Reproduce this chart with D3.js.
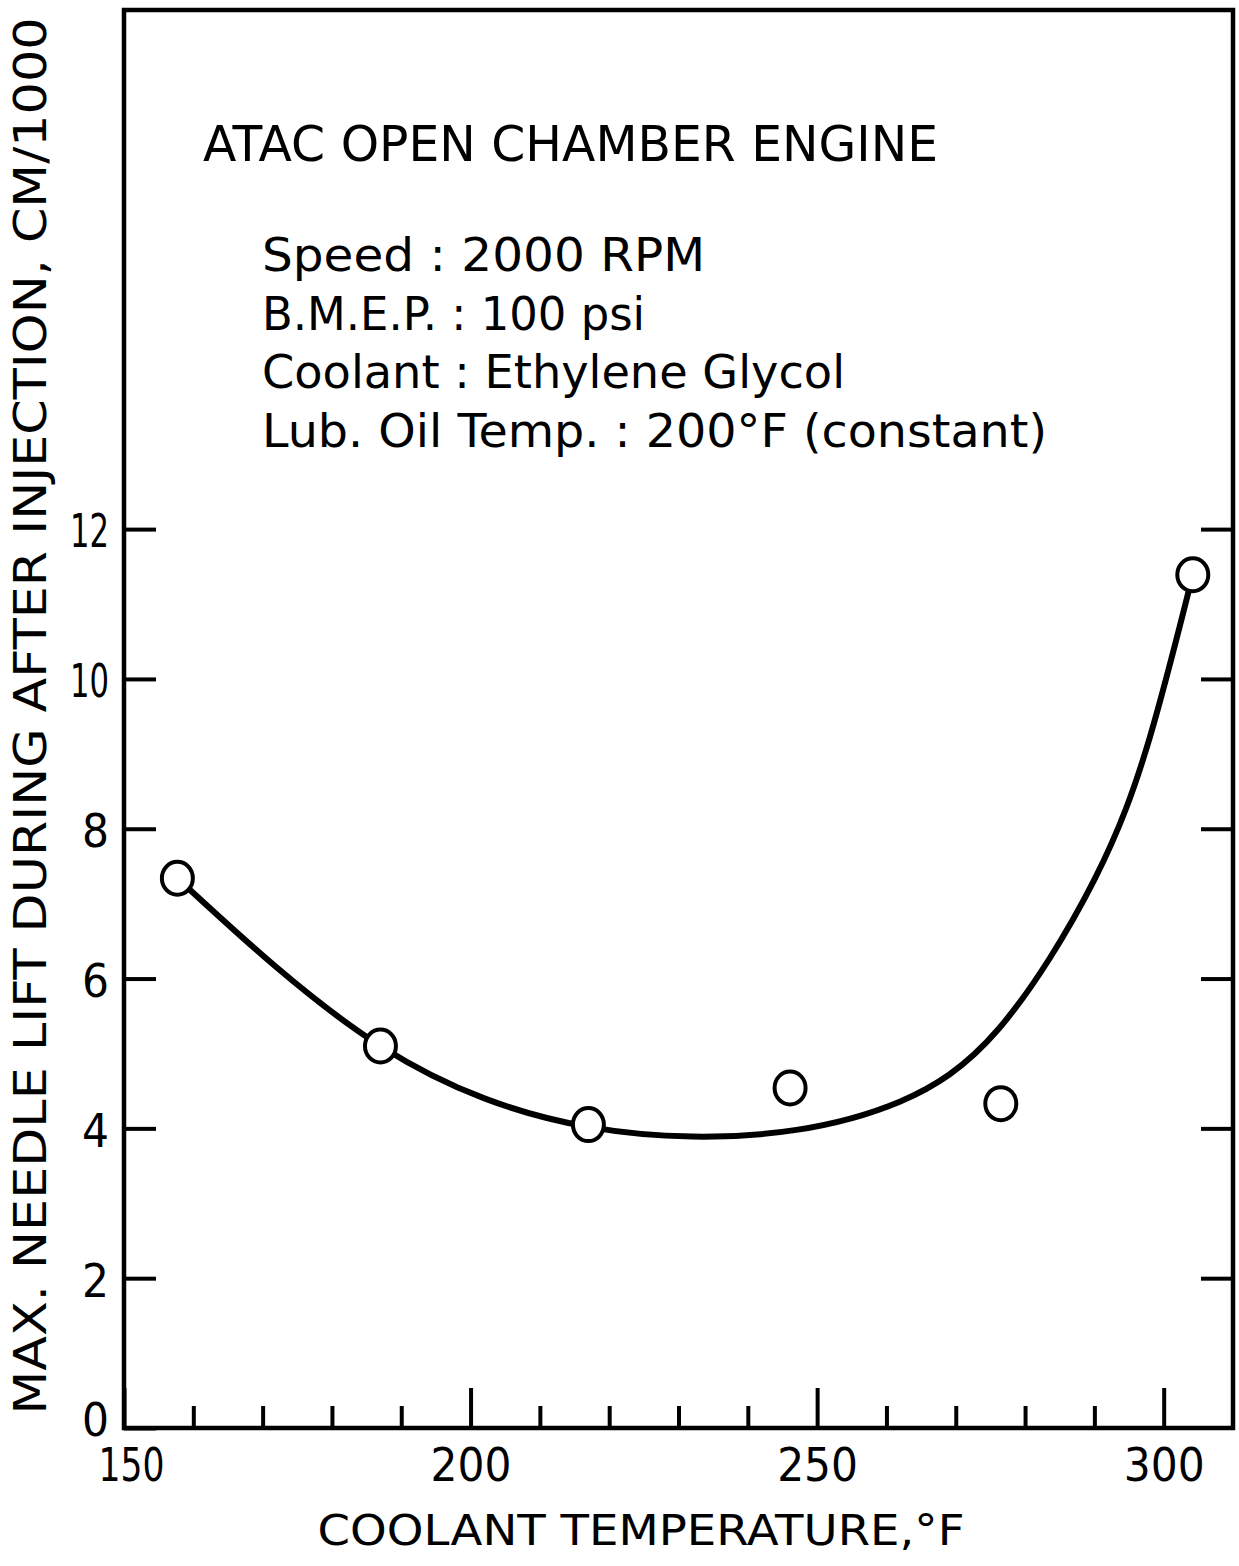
<!DOCTYPE html>
<html>
<head>
<meta charset="utf-8">
<script src="https://cdn.jsdelivr.net/npm/d3@7"></script>
<style>
	body { margin: 0; background: #fff; }
	text { font-family: 'DejaVu Sans', sans-serif; fill: #000; }
</style>
</head>
<body>
<div class="canvas"></div>
<script>
// measured points
const tempF = [157.7, 187.0, 217.0, 246.1, 276.5, 304.2];
const lift = [7.34, 5.10, 4.05, 4.54, 4.33, 11.39];

// faired curve as drawn
const curveTemp = [157.7, 172.0, 187.0, 202.0, 217.0, 232.0, 247.0, 262.0, 276.2, 290.0, 298.0, 304.2];
const curveLift = [7.34, 6.15, 5.10, 4.40, 4.02, 3.89, 3.98, 4.36, 5.33, 7.32, 9.22, 11.39];

// ticks
const xTicksMajor = [150, 200, 250, 300];
const xTicksMinor = [160, 170, 180, 190, 210, 220, 230, 240, 260, 270, 280, 290];
const yTicks = [0, 2, 4, 6, 8, 10, 12];

// texts
const title = 'ATAC OPEN CHAMBER ENGINE';
const notes = ['Speed :  2000 RPM', 'B.M.E.P. : 100 psi', 'Coolant : Ethylene  Glycol', 'Lub. Oil Temp. : 200°F (constant)'];
const xTitle = 'COOLANT TEMPERATURE,°F';
const yTitle = 'MAX. NEEDLE LIFT DURING AFTER INJECTION, CM/1000';

// layout widths of the lettering (it is narrower than the installed fonts)
const noteWidths = [443, 383, 583, 785];

const dims = {width: 1239, height: 1566};

const svg = d3.select('.canvas')
	.append('svg')
	.attr('width', dims.width)
	.attr('height', dims.height);

const x = d3.scaleLinear().domain([150, 310]).range([124, 1233]);
const y = d3.scaleLinear().domain([0, 18.93]).range([1428, 10]);

// digit label width: the "1" is a plain bar
const labelWidth = s => s.split('').reduce((w, c) => w + (c === '1' ? 12 : 27), 0);

// frame
svg.append('rect')
	.attr('x', x(150))
	.attr('y', y(18.93))
	.attr('width', x(310) - x(150))
	.attr('height', y(0) - y(18.93))
	.attr('fill', 'none')
	.attr('stroke', '#000')
	.attr('stroke-width', 4.5);

const styleAxis = g => {
	g.select('.domain').remove();
	g.selectAll('line').attr('stroke', '#000').attr('stroke-width', 4);
	g.attr('font-family', "'DejaVu Sans', sans-serif").attr('font-size', 47);
};

// bottom minor ticks
svg.append('g')
	.attr('transform', `translate(0, ${y(0)})`)
	.call(d3.axisBottom(x).tickValues(xTicksMinor).tickSize(-22).tickFormat(''))
	.call(styleAxis);

// bottom major ticks + labels
const xAxis = svg.append('g')
	.attr('transform', `translate(0, ${y(0)})`)
	.call(d3.axisBottom(x).tickValues(xTicksMajor).tickSize(-40).tickPadding(20).tickFormat(d3.format('d')))
	.call(styleAxis);
xAxis.selectAll('text')
	.attr('fill', '#000')
	.attr('dx', d => d === 150 ? 7 : 0)
	.attr('textLength', function() { return labelWidth(this.textContent); })
	.attr('lengthAdjust', 'spacingAndGlyphs');

// left ticks + labels
const yAxis = svg.append('g')
	.attr('transform', `translate(${x(150)}, 0)`)
	.call(d3.axisLeft(y).tickValues(yTicks).tickSize(-32).tickPadding(15).tickFormat(d3.format('d')))
	.call(styleAxis);
yAxis.selectAll('text')
	.attr('fill', '#000')
	.attr('dy', d => d === 0 ? '0.15em' : '0.38em')
	.attr('textLength', function() { return labelWidth(this.textContent); })
	.attr('lengthAdjust', 'spacingAndGlyphs');

// right ticks
svg.append('g')
	.attr('transform', `translate(${x(310)}, 0)`)
	.call(d3.axisRight(y).tickValues(yTicks.filter(v => v > 0)).tickSize(-32).tickFormat(''))
	.call(styleAxis);

// curve
const line = d3.line()
	.x((d, i) => x(curveTemp[i]))
	.y(d => y(d))
	.curve(d3.curveNatural);

svg.append('path')
	.datum(curveLift)
	.attr('fill', 'none')
	.attr('stroke', '#000')
	.attr('stroke-width', 6)
	.attr('stroke-linecap', 'round')
	.attr('d', line);

// points
svg.selectAll('.pt')
	.data(lift)
	.enter()
	.append('ellipse')
		.attr('class', 'pt')
		.attr('cx', (d, i) => x(tempF[i]))
		.attr('cy', d => y(d))
		.attr('rx', 15.5)
		.attr('ry', 16.5)
		.attr('fill', '#fff')
		.attr('stroke', '#000')
		.attr('stroke-width', 4);

// title
svg.append('text')
	.attr('x', 203)
	.attr('y', 161)
	.attr('font-size', 50)
	.attr('textLength', 735)
	.attr('lengthAdjust', 'spacingAndGlyphs')
	.text(title);

// condition notes
svg.selectAll('.note')
	.data(notes)
	.enter()
	.append('text')
		.attr('class', 'note')
		.attr('x', 262)
		.attr('y', (d, i) => 271 + i * 58.7)
		.attr('font-size', 47)
		.attr('textLength', (d, i) => noteWidths[i])
		.attr('lengthAdjust', 'spacingAndGlyphs')
		.text(d => d);

// axis titles
svg.append('text')
	.attr('x', 641)
	.attr('y', 1545)
	.attr('text-anchor', 'middle')
	.attr('font-size', 43)
	.attr('textLength', 647)
	.attr('lengthAdjust', 'spacingAndGlyphs')
	.text(xTitle);

svg.append('text')
	.attr('transform', 'translate(46, 716) rotate(-90)')
	.attr('text-anchor', 'middle')
	.attr('font-size', 45)
	.attr('textLength', 1397)
	.attr('lengthAdjust', 'spacingAndGlyphs')
	.text(yTitle);
</script>
</body>
</html>
